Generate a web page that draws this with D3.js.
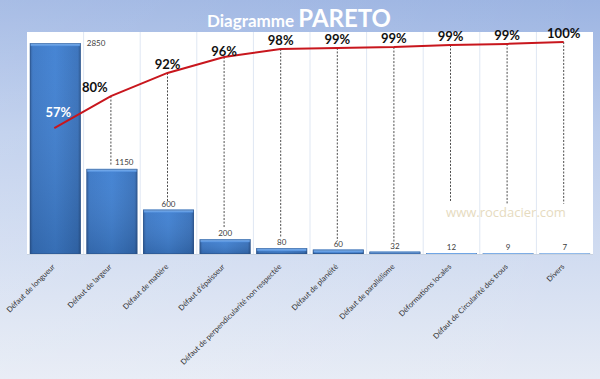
<!DOCTYPE html>
<html><head><meta charset="utf-8">
<script src="https://cdn.jsdelivr.net/npm/d3@7"></script>
<style>html,body{margin:0;padding:0;overflow:hidden}svg{display:block}</style>
</head><body>
<script>
// ---- data ----
const categories = ["Défaut de longueur","Défaut de largeur","Défaut de matière","Défaut d'épaisseur",
  "Défaut de perpendicularité non respectée","Défaut de planéité","Défaut de parallélisme",
  "Déformations locales","Défaut de Circularité des trous","Divers"];
const counts = [2850,1150,600,200,80,60,32,12,9,7];
const cumulativeLine = [59.4,74.5,85.4,92.9,96.7,97.2,97.6,98.6,99.1,100]; // plotted positions (%)
const cumulativeLabels = ["57%","80%","92%","96%","98%","99%","99%","99%","99%","100%"];
const dropLineEnds = [null,1190,700,350,215,175,150,700,680,680]; // in count units
const countDomain = [0,3000];
const pctDomain = [0,100];

const W=600,H=379;
const svg=d3.select("body").append("svg").attr("width",W).attr("height",H);
const defs=svg.append("defs");
const bg=defs.append("linearGradient").attr("id","bg").attr("x1",0).attr("y1",0).attr("x2",0).attr("y2",1);
bg.append("stop").attr("offset","0%").attr("stop-color","#9cb4e2");
bg.append("stop").attr("offset","35%").attr("stop-color","#bccdec");
bg.append("stop").attr("offset","100%").attr("stop-color","#e6ebf5");
const bg2=defs.append("linearGradient").attr("id","bg2").attr("x1",0).attr("y1",0).attr("x2",1).attr("y2",0);
bg2.append("stop").attr("offset","0%").attr("stop-color","#ffffff").attr("stop-opacity",0.12);
bg2.append("stop").attr("offset","100%").attr("stop-color","#ffffff").attr("stop-opacity",0);
const barG=defs.append("linearGradient").attr("id","barG").attr("x1",0).attr("y1",0).attr("x2",1).attr("y2",0);
barG.append("stop").attr("offset","0%").attr("stop-color","#2c5b9c");
barG.append("stop").attr("offset","6%").attr("stop-color","#3a77c6");
barG.append("stop").attr("offset","50%").attr("stop-color","#3f80d2");
barG.append("stop").attr("offset","94%").attr("stop-color","#3670bb");
barG.append("stop").attr("offset","100%").attr("stop-color","#2a5795");
const barV=defs.append("linearGradient").attr("id","barV").attr("x1",0).attr("y1",0).attr("x2",0).attr("y2",1);
barV.append("stop").attr("offset","0%").attr("stop-color","#ffffff").attr("stop-opacity",0.04);
barV.append("stop").attr("offset","100%").attr("stop-color","#000000").attr("stop-opacity",0.14);
const topG=defs.append("linearGradient").attr("id","topG").attr("x1",0).attr("y1",0).attr("x2",0).attr("y2",1);
topG.append("stop").attr("offset","0%").attr("stop-color","#8cbcf2");
topG.append("stop").attr("offset","100%").attr("stop-color","#5290de");

svg.append("rect").attr("width",W).attr("height",H).attr("fill","url(#bg)");
svg.append("rect").attr("width",W).attr("height",H).attr("fill","url(#bg2)");

const plot={l:27,r:593,t:32,b:255};
const base=254;
svg.append("rect").attr("x",plot.l).attr("y",plot.t).attr("width",plot.r-plot.l).attr("height",plot.b-plot.t).attr("fill","#ffffff");

const x=d3.scaleBand().domain(categories).range([plot.l,plot.r]).paddingInner(0.1).paddingOuter(0.05);
const y=d3.scaleLinear().domain(countDomain).range([base,plot.t]);
const yp=d3.scaleLinear().domain(pctDomain).range([base,y(2865)]);

// vertical grid lines at category boundaries
const step=x.step();
svg.append("g").selectAll("line").data(categories.slice(1)).join("line")
  .attr("x1",(d)=>x(d)-x.paddingInner()*step/2).attr("x2",(d)=>x(d)-x.paddingInner()*step/2)
  .attr("y1",plot.t).attr("y2",base).attr("stroke","#dfe7f3").attr("stroke-width",1);

// bars
const bars=svg.append("g");
categories.forEach((c,i)=>{
  const bx=x(c),bw=x.bandwidth(),by=y(counts[i]),bh=base-by;
  bars.append("rect").attr("x",bx).attr("y",by).attr("width",bw).attr("height",bh).attr("fill","url(#barG)");
  bars.append("rect").attr("x",bx).attr("y",by).attr("width",bw).attr("height",bh).attr("fill","url(#barV)");
  bars.append("rect").attr("x",bx+0.5).attr("y",by).attr("width",bw-1).attr("height",Math.min(3,bh)).attr("fill","url(#topG)");
  bars.append("rect").attr("x",bx+0.5).attr("y",by+0.5).attr("width",bw-1).attr("height",Math.max(bh-1,0)).attr("fill","none").attr("stroke","#2a4f85").attr("stroke-opacity",0.5).attr("stroke-width",1);
});
svg.append("line").attr("x1",plot.l).attr("x2",plot.r).attr("y1",base+0.5).attr("y2",base+0.5).attr("stroke","#c8d2e0");

// drop lines
const cx=(i)=>x(categories[i])+x.bandwidth()/2-1;
svg.append("g").selectAll("line").data(dropLineEnds.map((v,i)=>({v,i})).filter(d=>d.v!==null)).join("line")
  .attr("x1",d=>cx(d.i)).attr("x2",d=>cx(d.i))
  .attr("y1",d=>yp(cumulativeLine[d.i])).attr("y2",d=>y(d.v))
  .attr("stroke","#4d4d4d").attr("stroke-width",1).attr("stroke-dasharray","2,1.5");

// count labels
svg.append("g").selectAll("text").data(counts).join("text")
  .attr("x",(d,i)=> i===0 ? x(categories[0])+x.bandwidth()+6 : i===1 ? cx(1)+4 : cx(i)+1)
  .attr("y",(d,i)=> i===0 ? y(d)+3 : i===1 ? y(d)-4 : y(d)-3)
  .attr("text-anchor",(d,i)=> i<2?"start":"middle")
  .attr("font-family","Lato, 'Open Sans', sans-serif").attr("font-size",8).attr("fill","#404040")
  .text(d=>d);

// cumulative line
const line=d3.line().x((d,i)=>cx(i)).y(d=>yp(d));
svg.append("path").attr("d",line(cumulativeLine)).attr("fill","none").attr("stroke","#c8161d").attr("stroke-width",2);

// percentage labels
svg.append("g").selectAll("text").data(cumulativeLabels).join("text")
  .attr("x",(d,i)=> i===0 ? cx(0)+4 : i===1 ? cx(1)-16 : cx(i))
  .attr("y",(d,i)=> i===0 ? yp(cumulativeLine[0])-11 : yp(cumulativeLine[i])-(i===3?1:4))
  .attr("text-anchor","middle")
  .attr("font-family","Lato, 'Open Sans', sans-serif").attr("font-weight","bold").attr("font-size",13)
  .attr("fill",(d,i)=> i===0?"#ffffff":"#111111")
  .text(d=>d);

// x labels
svg.append("g").selectAll("text").data(categories).join("text")
  .attr("transform",d=>`translate(${x(d)+x.bandwidth()/2-3},${264}) rotate(-45)`)
  .attr("text-anchor","end").attr("dy","0.6em")
  .attr("font-family","Lato, 'Open Sans', sans-serif").attr("font-size",7.6).attr("fill","#333333")
  .text(d=>d);

// watermark
svg.append("text").attr("x",506).attr("y",217).attr("text-anchor","middle")
  .attr("font-family","'Open Sans', Lato, sans-serif").attr("font-size",13).attr("fill","#e6dbbf")
  .text("www.rocdacier.com");

// title
const title=svg.append("text").attr("x",299).attr("y",27).attr("text-anchor","middle")
  .attr("font-family","Lato, 'Open Sans', sans-serif").attr("font-weight","bold").attr("fill","#ffffff");
title.append("tspan").attr("font-size",17).text("Diagramme ");
title.append("tspan").attr("font-size",24).text("PARETO");
</script>
</body></html>
